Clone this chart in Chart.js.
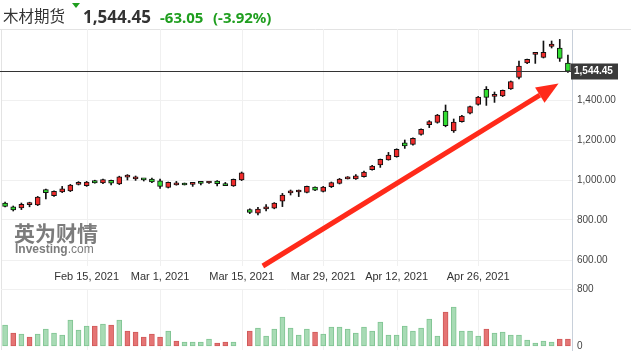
<!DOCTYPE html>
<html lang="zh">
<head>
  <meta charset="UTF-8" />
  <title>木材期货</title>
  <script src="https://cdn.jsdelivr.net/npm/chart.js@4"></script>
  <style>
    html, body { margin: 0; padding: 0; background: #fff; }
    #wrap { position: relative; width: 631px; height: 361px; overflow: hidden; }
    #chart { position: absolute; left: 0; top: 0; }
    .hd { position: absolute; line-height: 1; white-space: nowrap; }
    #name { left: 3px; top: 4px; font: 15.5px "Noto Sans CJK SC", sans-serif; color: #333; }
    #tri { left: 72px; top: 3px; width: 0; height: 0; border-left: 4px solid transparent; border-right: 4px solid transparent; border-top: 5px solid #1f9e1f; }
    #last { left: 83px; top: 5px; font: bold 17px "Noto Sans", sans-serif; color: #333; }
    #chg { left: 160px; top: 7px; font: bold 15px "Noto Sans", sans-serif; color: #1f9e1f; }
    #pct { left: 213px; top: 7px; font: bold 15px "Noto Sans", sans-serif; color: #1f9e1f; }
  </style>
</head>
<body>
  <div id="wrap">
    <canvas id="chart" width="631" height="361"></canvas>
    <span class="hd" id="name">木材期货</span>
    <span class="hd" id="tri"></span>
    <span class="hd" id="last">1,544.45</span>
    <span class="hd" id="chg">-63.05</span>
    <span class="hd" id="pct">(-3.92%)</span>
  </div>

  <script>
    // trading days (Feb 15 and Apr 2 closed)
    const dates = [
      '2021-02-01','2021-02-02','2021-02-03','2021-02-04','2021-02-05',
      '2021-02-08','2021-02-09','2021-02-10','2021-02-11','2021-02-12',
      '2021-02-16','2021-02-17','2021-02-18','2021-02-19',
      '2021-02-22','2021-02-23','2021-02-24','2021-02-25','2021-02-26',
      '2021-03-01','2021-03-02','2021-03-03','2021-03-04','2021-03-05',
      '2021-03-08','2021-03-09','2021-03-10','2021-03-11','2021-03-12',
      '2021-03-15','2021-03-16','2021-03-17','2021-03-18','2021-03-19',
      '2021-03-22','2021-03-23','2021-03-24','2021-03-25','2021-03-26',
      '2021-03-29','2021-03-30','2021-03-31','2021-04-01',
      '2021-04-05','2021-04-06','2021-04-07','2021-04-08','2021-04-09',
      '2021-04-12','2021-04-13','2021-04-14','2021-04-15','2021-04-16',
      '2021-04-19','2021-04-20','2021-04-21','2021-04-22','2021-04-23',
      '2021-04-26','2021-04-27','2021-04-28','2021-04-29','2021-04-30',
      '2021-05-03','2021-05-04','2021-05-05','2021-05-06','2021-05-07',
      '2021-05-10','2021-05-11'
    ];
    const openP = [
      884, 866, 860, 877, 876, 952, 922, 940, 945, 978,
      972, 997, 985, 998, 980, 1014, 1006, 1005, 1004, 996,
      963, 976, 977, 978, 986, 985, 995, 975, 970, 1000,
      852, 834, 856, 859, 894, 936, 940, 938, 964, 943,
      967, 983, 1006, 1005, 1017, 1052, 1076, 1101, 1117, 1186,
      1178, 1228, 1277, 1288, 1345, 1246, 1292, 1334, 1378, 1453,
      1418, 1420, 1456, 1513, 1585, 1628, 1613, 1668, 1660, 1585
    ];
    const highP = [
      890, 870, 885, 889, 918, 955, 946, 968, 978, 992,
      993, 999, 1004, 1000, 1019, 1027, 1020, 1006, 1010, 1005,
      990, 993, 985, 988, 988, 993, 997, 988, 1005, 1040,
      856, 863, 877, 887, 933, 950, 950, 970, 966, 968,
      990, 1008, 1017, 1027, 1045, 1073, 1105, 1138, 1156, 1200,
      1211, 1256, 1297, 1328, 1375, 1305, 1323, 1370, 1418, 1467,
      1440, 1450, 1495, 1595, 1605, 1633, 1695, 1695, 1703, 1625
    ];
    const lowP = [
      866, 845, 852, 866, 872, 905, 918, 937, 942, 975,
      968, 984, 982, 975, 977, 1000, 998, 995, 987, 958,
      960, 974, 975, 968, 975, 983, 970, 972, 968, 997,
      832, 826, 845, 856, 867, 925, 917, 936, 947, 940,
      962, 980, 1005, 1003, 1014, 1049, 1063, 1099, 1114, 1158,
      1174, 1224, 1262, 1284, 1266, 1238, 1289, 1331, 1374, 1373,
      1388, 1417, 1453, 1505, 1582, 1583, 1610, 1660, 1593, 1538
    ];
    const closeP = [
      868, 850, 878, 879, 915, 937, 943, 956, 975, 981,
      990, 985, 1002, 984, 1016, 1017, 1008, 1001, 990, 968,
      988, 979, 975, 981, 983, 988, 982, 972, 1003, 1036,
      838, 855, 859, 885, 925, 940, 943, 968, 949, 965,
      987, 1005, 1010, 1021, 1040, 1070, 1103, 1125, 1153, 1171,
      1208, 1253, 1292, 1325, 1272, 1290, 1320, 1367, 1415, 1413,
      1422, 1448, 1492, 1570, 1603, 1631, 1638, 1680, 1607.5, 1544.45
    ];
    const volume = [
      296, 183, 169, 127, 169, 240, 183, 155, 367, 226,
      282, 282, 310, 296, 367, 212, 197, 127, 169, 127,
      212, 70, 56, 56, 56, 99, 42, 56, 56, 0,
      212, 254, 141, 240, 409, 254, 155, 240, 197, 169,
      268, 268, 240, 183, 268, 212, 338, 155, 155, 282,
      212, 254, 381, 141, 479, 550, 212, 212, 141, 240,
      183, 197, 155, 155, 85, 42, 70, 56, 99, 99
    ];
    const volSide = [
      'g','r','g','r','g','g','g','g','g','g',
      'g','r','g','r','g','r','r','r','r','r',
      'g','r','g','g','g','g','r','r','g','g',
      'r','g','g','g','g','g','g','g','r','g',
      'g','g','g','g','g','g','g','g','g','g',
      'g','g','g','g','r','g','g','g','g','r',
      'g','g','g','g','g','g','g','g','r','r'
    ];
    const tickAt = ['2021-02-16', '2021-03-01', '2021-03-15', '2021-03-29', '2021-04-12', '2021-04-26'];
    const tickText = ['Feb 15, 2021', 'Mar 1, 2021', 'Mar 15, 2021', 'Mar 29, 2021', 'Apr 12, 2021', 'Apr 26, 2021'];
    const priceTicks = [600, 800, 1000, 1200, 1400];
    const volTicks = [0, 800];
    const lastPrice = 1544.45;

    Chart.defaults.font.family = '"Liberation Sans", Arial, sans-serif';

    const fmt = v => v.toLocaleString('en-US', { minimumFractionDigits: 2, maximumFractionDigits: 2 });

    const extras = {
      id: 'extras',
      beforeDatasetsDraw(chart) {
        const { ctx, chartArea: a, scales } = chart;
        const x = scales.x, y = scales.y, yv = scales.yVol;
        const priceBottom = y.getPixelForValue(570);
        const volTop = yv.getPixelForValue(800);
        ctx.save();
        // frame lines
        ctx.strokeStyle = '#e3e3e3';
        ctx.lineWidth = 1;
        ctx.beginPath();
        ctx.moveTo(0, a.top + 0.5); ctx.lineTo(631, a.top + 0.5);
        ctx.moveTo(a.left + 0.5, a.top); ctx.lineTo(a.left + 0.5, a.bottom);
        ctx.stroke();
        // vertical grid in both panels
        ctx.strokeStyle = '#f0f0f0';
        ctx.beginPath();
        tickAt.forEach(d => {
          const px = Math.round(x.getPixelForValue(dates.indexOf(d))) + 0.5;
          ctx.moveTo(px, a.top); ctx.lineTo(px, priceBottom);
          ctx.moveTo(px, volTop); ctx.lineTo(px, a.bottom);
        });
        // volume grid
        ctx.moveTo(a.left, Math.round(volTop) + 0.5); ctx.lineTo(a.right, Math.round(volTop) + 0.5);
        ctx.stroke();
        // volume axis labels
        ctx.fillStyle = '#444';
        ctx.font = '10px "Liberation Sans", Arial, sans-serif';
        ctx.textBaseline = 'middle';
        volTicks.forEach(v => ctx.fillText(String(v), a.right + 5, yv.getPixelForValue(v)));
        // watermark
        ctx.fillStyle = '#7c7c7c';
        ctx.font = 'bold 21px "Noto Sans CJK SC", sans-serif';
        ctx.textBaseline = 'alphabetic';
        ctx.fillText('英为财情', 14, 241);
        ctx.font = 'bold 12px "Liberation Sans", Arial, sans-serif';
        ctx.fillText('Investing', 15, 253);
        const w = ctx.measureText('Investing').width;
        ctx.font = '12px "Liberation Sans", Arial, sans-serif';
        ctx.fillText('.com', 15 + w, 253);
        ctx.restore();
      },
      afterDatasetsDraw(chart) {
        const { ctx, chartArea: a, scales } = chart;
        const x = scales.x, y = scales.y;
        ctx.save();
        // last price line + label
        const ly = Math.round(y.getPixelForValue(lastPrice)) + 0.5;
        ctx.strokeStyle = '#333';
        ctx.lineWidth = 1;
        ctx.beginPath();
        ctx.moveTo(0, ly); ctx.lineTo(a.right, ly);
        ctx.stroke();
        ctx.fillStyle = '#3a3a3a';
        ctx.fillRect(a.right - 1, ly - 8, 47, 16);
        ctx.fillStyle = '#fff';
        ctx.font = 'bold 10px "Liberation Sans", Arial, sans-serif';
        ctx.textBaseline = 'middle';
        ctx.fillText(fmt(lastPrice), a.right + 2, ly);
        // red arrow
        const x0 = x.getPixelForValue(31.6), y0 = y.getPixelForValue(570);
        const x1 = x.getPixelForValue(67.85), y1 = y.getPixelForValue(1482);
        const ang = Math.atan2(y1 - y0, x1 - x0);
        const headLen = 22, headW = 9;
        const bx = x1 - headLen * Math.cos(ang), by = y1 - headLen * Math.sin(ang);
        ctx.strokeStyle = '#ff2a1a';
        ctx.fillStyle = '#ff2a1a';
        ctx.lineWidth = 5;
        ctx.beginPath();
        ctx.moveTo(x0, y0); ctx.lineTo(bx, by);
        ctx.stroke();
        ctx.beginPath();
        ctx.moveTo(x1, y1);
        ctx.lineTo(bx + headW * Math.sin(ang), by - headW * Math.cos(ang));
        ctx.lineTo(bx - headW * Math.sin(ang), by + headW * Math.cos(ang));
        ctx.closePath();
        ctx.fill();
        ctx.restore();
      }
    };

    new Chart(document.getElementById('chart'), {
      type: 'bar',
      data: {
        labels: dates,
        datasets: [
          {
            data: dates.map((d, i) => [openP[i], closeP[i]]),
            backgroundColor: dates.map((d, i) => closeP[i] > openP[i] ? '#f02b2b' : '#33dd33'),
            borderColor: '#111',
            borderWidth: 1,
            borderSkipped: false,
            barThickness: 5,
            minBarLength: 2,
            grouped: false,
            order: 1,
            yAxisID: 'y'
          },
          {
            data: dates.map((d, i) => [lowP[i], highP[i]]),
            backgroundColor: '#111',
            barThickness: 1,
            grouped: false,
            order: 2,
            yAxisID: 'y'
          },
          {
            data: volume,
            backgroundColor: volSide.map(s => s === 'r' ? '#e57474' : '#a8dbb5'),
            borderColor: volSide.map(s => s === 'r' ? '#d05a5a' : '#80c593'),
            borderWidth: 1,
            borderSkipped: false,
            barThickness: 5,
            grouped: false,
            order: 3,
            yAxisID: 'yVol'
          }
        ]
      },
      options: {
        responsive: false,
        animation: false,
        layout: { padding: { left: 1, top: 29, bottom: 11, right: 0 } },
        plugins: { legend: { display: false }, tooltip: { enabled: false } },
        scales: {
          x: {
            type: 'category',
            offset: true,
            position: { y: 605 },
            grid: { display: false },
            border: { display: false },
            ticks: {
              autoSkip: false,
              maxRotation: 0,
              padding: 3,
              color: '#333',
              font: { size: 11 },
              callback: function (v, i) {
                const k = tickAt.indexOf(dates[i]);
                return k >= 0 ? tickText[k] : '';
              }
            }
          },
          y: {
            position: 'right',
            min: 150,
            max: 1755,
            afterFit: s => { s.width = 59; },
            afterBuildTicks: s => { s.ticks = priceTicks.map(v => ({ value: v })); },
            grid: { color: '#f0f0f0', drawTicks: false },
            border: { color: '#c8d0da' },
            ticks: { padding: 5, color: '#444', font: { size: 10 }, callback: v => fmt(v) }
          },
          yVol: {
            display: false,
            min: -56.5,
            max: 4476
          }
        }
      },
      plugins: [extras]
    });
  </script>
</body>
</html>
